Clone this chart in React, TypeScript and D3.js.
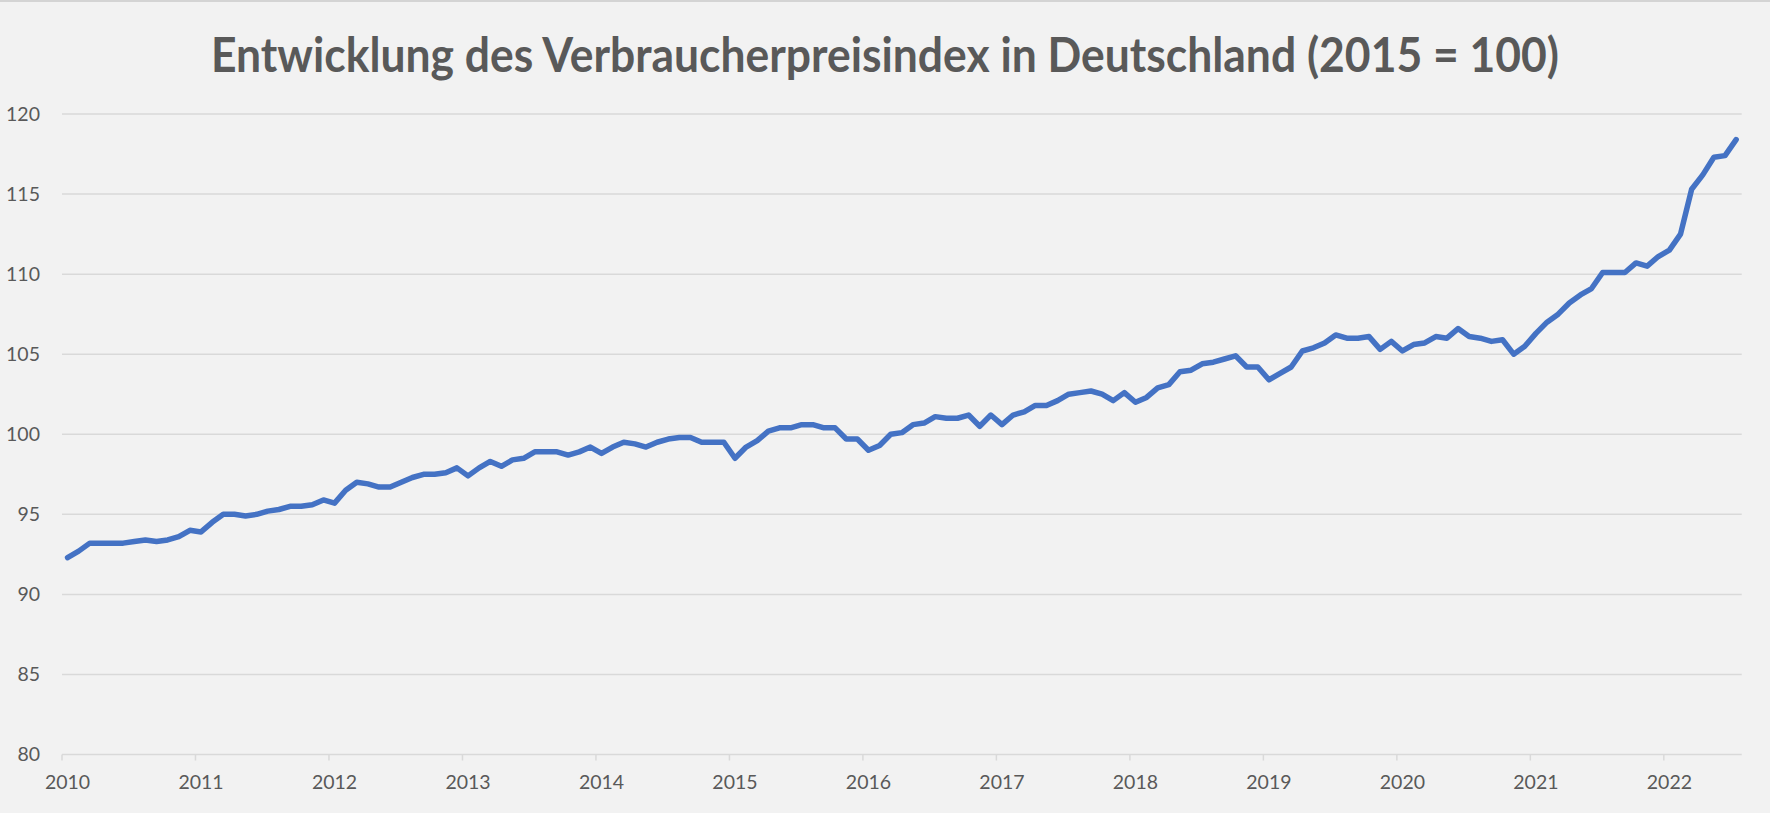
import React from "react";
import * as d3 from "d3";

const title = "Entwicklung des Verbraucherpreisindex in Deutschland (2015 = 100)";
const yearLabels = ["2010","2011","2012","2013","2014","2015","2016","2017","2018","2019","2020","2021","2022"];
const yTicks = [80, 85, 90, 95, 100, 105, 110, 115, 120];

const v2010 = [92.3, 92.7, 93.2, 93.2, 93.2, 93.2, 93.3, 93.4, 93.3, 93.4, 93.6, 94.0];
const v2011 = [93.9, 94.5, 95.0, 95.0, 94.9, 95.0, 95.2, 95.3, 95.5, 95.5, 95.6, 95.9];
const v2012 = [95.7, 96.5, 97.0, 96.9, 96.7, 96.7, 97.0, 97.3, 97.5, 97.5, 97.6, 97.9];
const v2013 = [97.4, 97.9, 98.3, 98.0, 98.4, 98.5, 98.9, 98.9, 98.9, 98.7, 98.9, 99.2];
const v2014 = [98.8, 99.2, 99.5, 99.4, 99.2, 99.5, 99.7, 99.8, 99.8, 99.5, 99.5, 99.5];
const v2015 = [98.5, 99.2, 99.6, 100.2, 100.4, 100.4, 100.6, 100.6, 100.4, 100.4, 99.7, 99.7];
const v2016 = [99.0, 99.3, 100.0, 100.1, 100.6, 100.7, 101.1, 101.0, 101.0, 101.2, 100.5, 101.2];
const v2017 = [100.6, 101.2, 101.4, 101.8, 101.8, 102.1, 102.5, 102.6, 102.7, 102.5, 102.1, 102.6];
const v2018 = [102.0, 102.3, 102.9, 103.1, 103.9, 104.0, 104.4, 104.5, 104.7, 104.9, 104.2, 104.2];
const v2019 = [103.4, 103.8, 104.2, 105.2, 105.4, 105.7, 106.2, 106.0, 106.0, 106.1, 105.3, 105.8];
const v2020 = [105.2, 105.6, 105.7, 106.1, 106.0, 106.6, 106.1, 106.0, 105.8, 105.9, 105.0, 105.5];
const v2021 = [106.3, 107.0, 107.5, 108.2, 108.7, 109.1, 110.1, 110.1, 110.1, 110.7, 110.5, 111.1];
const v2022 = [111.5, 112.5, 115.3, 116.2, 117.3, 117.4, 118.4];

const cpi = [
  ...v2010, ...v2011, ...v2012, ...v2013, ...v2014, ...v2015, ...v2016,
  ...v2017, ...v2018, ...v2019, ...v2020, ...v2021, ...v2022,
];

const W = 1770;
const H = 813;
const left = 62;
const right = 1741.7;
const top = 114;
const bottom = 754.5;

export default function App() {
  const n = cpi.length;
  const x = d3.scaleLinear().domain([0, n]).range([left, right]);
  const y = d3.scaleLinear().domain([80, 120]).range([bottom, top]);
  const line = d3
    .line<number>()
    .x((_, i) => x(i + 0.5))
    .y((d) => y(d));

  const textColor = "#595959";
  const grid = "#d9d9d9";
  const font = "Lato, 'Open Sans', sans-serif";

  return (
    <svg
      width={W}
      height={H}
      style={{ position: "absolute", left: 0, top: 0, display: "block" }}
    >
      <rect x={0} y={0} width={W} height={H} fill="#f2f2f2" />
      <rect x={0} y={0} width={W} height={2} fill="#d4d4d4" />
      <text
        x={W / 2}
        y={72}
        textAnchor="middle"
        fontFamily={font}
        fontWeight="bold"
        fontSize={47}
        fill={textColor}
        textLength={1348}
        lengthAdjust="spacingAndGlyphs"
      >
        {title}
      </text>
      {yTicks.map((t) => (
        <g key={t}>
          <line
            x1={left}
            x2={right}
            y1={y(t)}
            y2={y(t)}
            stroke={grid}
            strokeWidth={1.5}
          />
          <text
            x={40}
            y={y(t)}
            dy="0.35em"
            textAnchor="end"
            fontFamily={font}
            fontSize={19.5}
            fill={textColor}
          >
            {t}
          </text>
        </g>
      ))}
      {yearLabels.map((lab, k) => (
        <g key={lab}>
          <line
            x1={x(k * 12)}
            x2={x(k * 12)}
            y1={bottom}
            y2={bottom + 6}
            stroke={grid}
            strokeWidth={1.5}
          />
          <text
            x={x(k * 12 + 0.5)}
            y={789}
            textAnchor="middle"
            fontFamily={font}
            fontSize={19.5}
            fill={textColor}
          >
            {lab}
          </text>
        </g>
      ))}
      <path
        d={line(cpi) || ""}
        fill="none"
        stroke="#4472C4"
        strokeWidth={5.5}
        strokeLinejoin="round"
        strokeLinecap="round"
      />
    </svg>
  );
}
